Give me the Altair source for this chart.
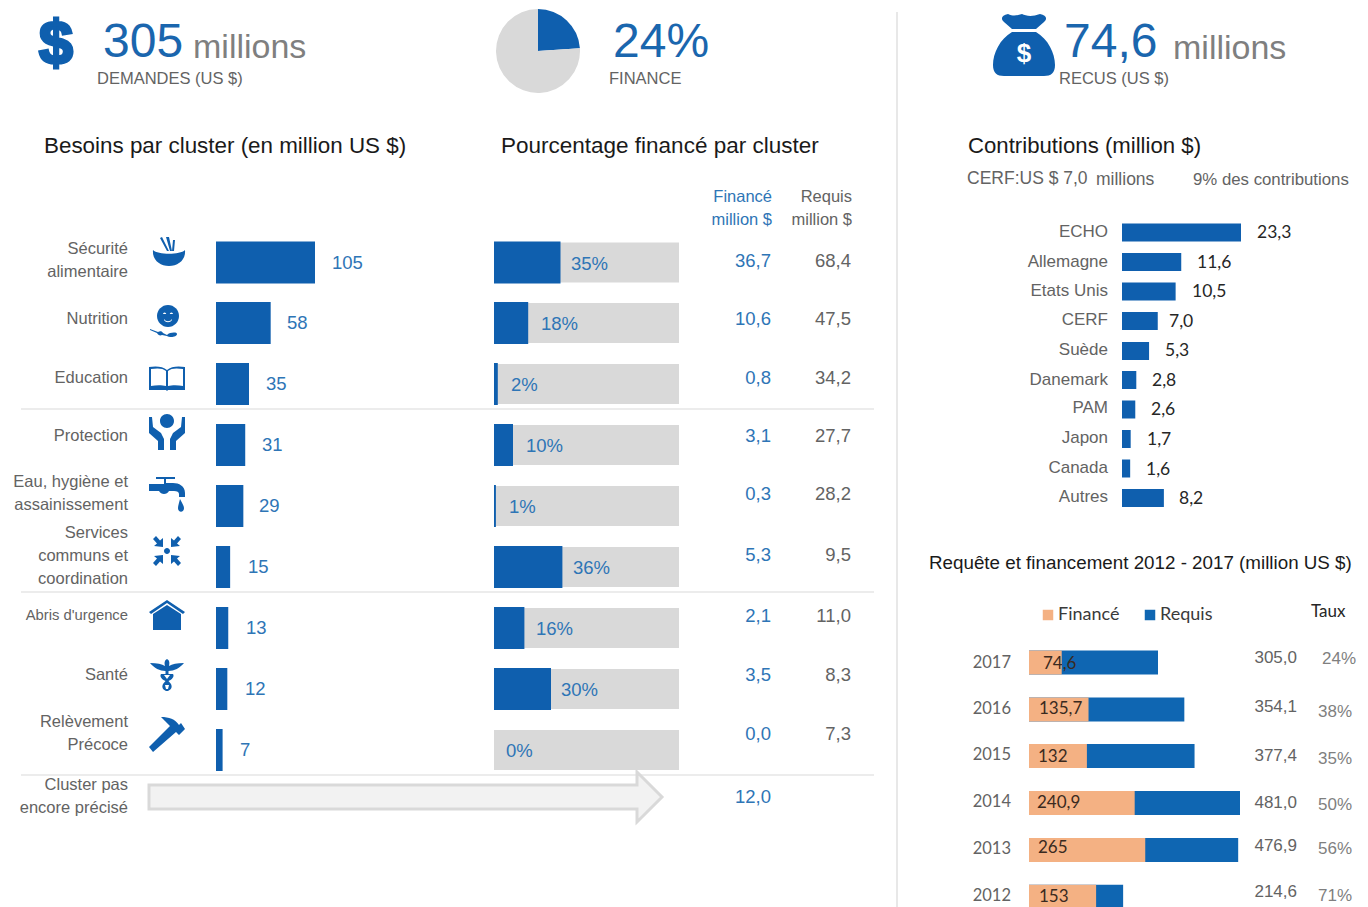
import altair as alt
import pandas as pd

W, H = 1352, 899
OX, OY = 8, 8  # page margin

BLUE = "#0F5FAE"
TXTBLUE = "#2E75B6"
BIGBLUE = "#1A66AE"
GRAY = "#636363"
MIDGRAY = "#7F7F7F"
LIGHT = "#D9D9D9"
ORANGE = "#F4B183"
ARIAL = "Liberation Sans"
CAL = "Lato"

# --- data -----------------------------------------------------------------
clusters = ["Sécurité\nalimentaire", "Nutrition", "Education", "Protection",
            "Eau, hygiène et\nassainissement", "Services\ncommuns et\ncoordination",
            "Abris d'urgence", "Santé", "Relèvement\nPrécoce", "Cluster pas\nencore précisé"]
besoins = [105, 58, 35, 31, 29, 15, 13, 12, 7]
pct = [35, 18, 2, 10, 1, 36, 16, 30, 0]
finance_txt = ["36,7", "10,6", "0,8", "3,1", "0,3", "5,3", "2,1", "3,5", "0,0", "12,0"]
requis_txt = ["68,4", "47,5", "34,2", "27,7", "28,2", "9,5", "11,0", "8,3", "7,3"]

donors = ["ECHO", "Allemagne", "Etats Unis", "CERF", "Suède", "Danemark", "PAM", "Japon", "Canada", "Autres"]
contrib = [23.3, 11.6, 10.5, 7.0, 5.3, 2.8, 2.6, 1.7, 1.6, 8.2]
contrib_txt = ["23,3", "11,6", "10,5", "7,0", "5,3", "2,8", "2,6", "1,7", "1,6", "8,2"]

years = ["2017", "2016", "2015", "2014", "2013", "2012"]
fin_y = [74.6, 135.7, 132, 240.9, 265, 153]
fin_y_txt = ["74,6", "135,7", "132", "240,9", "265", "153"]
req_y = [294, 354.1, 377.4, 481.0, 476.9, 214.6]
req_y_txt = ["305,0", "354,1", "377,4", "481,0", "476,9", "214,6"]
taux = ["24%", "38%", "35%", "50%", "56%", "71%"]

# --- scales: page pixel positions expressed in plot coordinates ------------
def xs(*p): return [v - OX for v in p]
def ys(*p): return [v - OY for v in p]

def yscale(rng):
    return alt.Y("i:Q", axis=None, stack=None,
                 scale=alt.Scale(domain=list(range(len(rng))), range=ys(*rng), nice=False, zero=False, padding=0))

def xscale_row(rng):
    return alt.X("i:Q", axis=None, stack=None,
                 scale=alt.Scale(domain=list(range(len(rng))), range=xs(*rng), nice=False, zero=False, padding=0))

BAR_ROWS = [262.5, 323, 384, 445, 506, 567, 628, 689, 750]
VAL_ROWS = [261, 319, 378, 436, 494, 555, 616, 675, 734, 797]
LBL_ROWS = [249, 319, 378, 436, 482, 533, 616, 675, 722, 785]
layers = []

def frame(**cols):
    df = pd.DataFrame(cols)
    df["i"] = range(len(df))
    return df

def bars(df, field, x0, x1, dmax, rows, size, color, **kw):
    return alt.Chart(df).mark_bar(size=size, color=color, orient="horizontal", **kw).encode(
        x=alt.X(f"{field}:Q", axis=None, stack=None,
                scale=alt.Scale(domain=[0, dmax], range=xs(x0, x1), nice=False, zero=True, padding=0)),
        y=yscale(rows))

def texts(df, field, rows, x, size, color, font=ARIAL, align="right", **kw):
    enc = dict(y=yscale(rows), text=f"{field}:N")
    if isinstance(x, (int, float)):
        enc["x"] = alt.value(x - OX)
    else:
        enc["x"] = xscale_row(x)
    return alt.Chart(df).mark_text(fontSize=size, color=color, font=font, align=align, baseline="middle",
                                   lineBreak="\n", **kw).encode(**enc)

def label(txt, x, y, size, color, font=ARIAL, align="left", **kw):
    return alt.Chart(pd.DataFrame({"t": [txt]})).mark_text(
        fontSize=size, color=color, font=font, align=align, baseline="middle", **kw
    ).encode(x=alt.value(x - OX), y=alt.value(y - OY), text="t:N")

def glyph(path, x, y, fill=BLUE, stroke=None, sw=0):
    kw = dict(shape=path, size=4, filled=True, fill=fill, opacity=1, fillOpacity=1)
    if stroke:
        kw.update(stroke=stroke, strokeWidth=sw)
    else:
        kw.update(strokeWidth=0)
    return alt.Chart(pd.DataFrame({"k": [0]})).mark_point(**kw).encode(x=alt.value(x - OX), y=alt.value(y - OY))

def hline(x0, x1, y, color=LIGHT, w=1):
    return alt.Chart(pd.DataFrame({"k": [0]})).mark_rule(color=color, strokeWidth=w).encode(
        x=alt.value(x0 - OX), x2=alt.value(x1 - OX), y=alt.value(y - OY))

def vline(x, y0, y1, color="#E8E8E8", w=2):
    return alt.Chart(pd.DataFrame({"k": [0]})).mark_rule(color=color, strokeWidth=w).encode(
        x=alt.value(x - OX), y=alt.value(y0 - OY), y2=alt.value(y1 - OY))

# --- header -------------------------------------------------------------
layers += [
    label("$", 56, 45, 61, BLUE, align="center", fontWeight="bold", stroke=BLUE, strokeWidth=3),
    label("305", 103, 43, 48, BIGBLUE),
    label("millions", 193, 48, 34, MIDGRAY),
    label("DEMANDES (US $)", 97, 79, 16.5, GRAY),
    label("24%", 613, 43, 48, BIGBLUE),
    label("FINANCE", 609, 79, 16.5, GRAY),
    label("74,6", 1064, 43, 48, BIGBLUE),
    label("millions", 1173, 49, 34, MIDGRAY),
    label("RECUS (US $)", 1059, 79, 16.5, GRAY),
    label("Besoins par cluster (en million US $)", 44, 146, 22.4, "#1A1A1A"),
    label("Pourcentage financé par cluster", 501, 146, 22.5, "#1A1A1A"),
    label("Contributions (million $)", 968, 146, 22.2, "#1A1A1A"),
    label("CERF:US $ 7,0", 967, 179, 17.5, GRAY),
    label("millions", 1096, 180, 17.5, GRAY),
    label("9% des contributions", 1193, 180, 16.8, GRAY),
    label("Requête et financement 2012 - 2017 (million US $)", 929, 563, 18.8, "#1A1A1A"),
    label("Financé", 772, 197, 16.5, TXTBLUE, align="right"),
    label("million $", 772, 220, 16.5, TXTBLUE, align="right"),
    label("Requis", 852, 197, 16.5, GRAY, align="right"),
    label("million $", 852, 220, 16.5, GRAY, align="right"),
]

# pie
pie = pd.DataFrame({"k": ["Financé", "Reste"], "v": [24, 76], "o": [0, 1]})
layers.append(alt.Chart(pie).mark_arc(radius=42).encode(
    theta=alt.Theta("v:Q", stack=True, scale=alt.Scale(domain=[0, 100], range=[0, 6.2832])),
    color=alt.Color("k:N", legend=None, scale=alt.Scale(domain=["Financé", "Reste"], range=[BLUE, LIGHT])),
    order=alt.Order("o:Q"),
    x=alt.value(538 - OX), y=alt.value(51 - OY)))

# money bag
layers.append(glyph("M-16,-31 C-10,-28 -6,-30 -2,-31 C2,-29 8,-28 16,-31 C22,-30 24,-26 20,-23 L12,-16 L-12,-16 L-20,-23 C-24,-26 -22,-30 -16,-31Z"
                    "M-12,-13 L12,-13 C24,-6 31,8 31,20 C31,28 27,31 20,31 L-20,31 C-27,31 -31,28 -31,20 C-31,8 -24,-6 -12,-13Z",
                    1024, 45))
layers.append(label("$", 1024, 54, 26, "white", align="center", fontWeight="bold"))

# separators
layers += [hline(21, 874, 409), hline(21, 874, 592), hline(21, 874, 775), vline(897, 12, 907)]

# --- cluster table --------------------------------------------------------
lbl = frame(t=clusters)
layers.append(texts(lbl[lbl.i != 6], "t", LBL_ROWS, 128, 16.5, GRAY, lineHeight=23))
layers.append(texts(lbl[lbl.i == 6], "t", LBL_ROWS, 128, 14.8, GRAY))

bd = frame(v=besoins, t=[str(v) for v in besoins])
layers.append(bars(bd, "v", 216, 315, 105, BAR_ROWS, 42, BLUE))
for_lbl = [e + 16 for e in [316, 271, 250, 246, 243, 232, 230, 229, 224]]
layers.append(texts(bd, "t", BAR_ROWS, for_lbl, 18.5, TXTBLUE, align="left"))

pdf = frame(v=pct, full=[100] * 9, t=[f"{v}%" for v in pct])
layers.append(bars(pdf, "full", 494, 679, 100, BAR_ROWS, 40, LIGHT))
layers.append(bars(pdf[pdf.v > 0], "v", 494, 684, 100, BAR_ROWS, 42, BLUE))
layers.append(texts(pdf, "t", [r + 1 for r in BAR_ROWS],
                    [571, 541, 511, 526, 509, 573, 536, 561, 506], 18.5, TXTBLUE, align="left"))

layers.append(texts(frame(t=finance_txt), "t", VAL_ROWS, 771, 18.5, TXTBLUE))
layers.append(texts(frame(t=requis_txt), "t", VAL_ROWS[:9], 851, 18.5, GRAY))

# arrow
layers.append(glyph("M-256,-12 L232,-12 L232,-25 L257,0 L232,25 L232,12 L-256,12Z",
                    405, 797, fill="#F2F2F2", stroke=LIGHT, sw=3))

# icons ------------------------------------------------------------------
bowl = ("M-16,-3 C-11,2 11,2 16,-3 C17,7 9,13 0,13 C-9,13 -17,7 -16,-3Z"
        "M-9,-15 L-2,-2 L0,-2 L-7,-16Z M-3,-16 L1,-2 L3,-2 L0,-16Z M4,-13 L3,-2 L5,-2 L6,-13Z")
layers.append(glyph(bowl, 169, 253))
# nutrition
layers.append(glyph("M-11,0 A11,11 0 1 1 11,0 A11,11 0 1 1 -11,0Z", 168, 316))
layers.append(glyph("M-5,-2 A1.6,1.6 0 1 1 -1.8,-2Z M1.8,-2 A1.6,1.6 0 1 1 5,-2Z M-4,3 C-2,6 2,6 4,3 L4,4 C2,7 -2,7 -4,4Z", 168, 316, fill="white"))
layers.append(glyph("M-16,-3 L-8,0 C-6,-1 -4,-1 -3,1 L1,3 C4,0 11,0 11,2 C11,5 4,6 1,4 L-4,3 C-6,4 -8,3 -9,1 L-16,-2Z", 166, 332))
# book (education)
layers.append(glyph("M-18,-11 C-12,-12 -4,-12 0,-8 C4,-12 12,-12 18,-11 L18,12 L1,12 L0,13 L-1,12 L-18,12Z", 167, 378))
layers.append(glyph("M-16,-9 C-10,-10 -4,-10 -1,-7 L-1,8 C-5,7 -11,7 -16,8Z M1,-7 C4,-10 10,-10 16,-9 L16,8 C11,7 5,7 1,8Z", 167, 378, fill="white"))
# protection: hands
layers.append(glyph("M-7,-12 A7,7 0 1 1 7,-12 A7,7 0 1 1 -7,-12Z"
                    "M-18,-16 L-15,-16 L-14,-6 L-6,0 L-3,6 L-3,17 L-9,17 L-9,8 L-18,0Z"
                    "M18,-16 L15,-16 L14,-6 L6,0 L3,6 L3,17 L9,17 L9,8 L18,0Z", 167, 433))
# tap
layers.append(glyph("M-11,-16 L8,-16 L8,-14 L-1,-14 L-1,-10 L6,-10 C12,-10 18,-7 18,0 L18,4 L12,4 L12,1 C12,-1 10,-2 7,-2 L2,-2 C0,2 -6,2 -8,-2 L-18,-2 L-18,-9 L-3,-9 L-3,-14 L-11,-14Z"
                    "M13,6 C15,10 17,13 17,15 C17,20 11,20 11,15 C11,13 12,10 13,6Z", 167, 493))
# services: arrows to centre
layers.append(glyph("M-3,0 A3,3 0 1 1 3,0 A3,3 0 1 1 -3,0Z"
                    "M-4,-4 L-13,-5 L-10,-7.5 L-14,-12 L-11,-15 L-7,-10.5 L-4,-13Z"
                    "M4,-4 L13,-5 L10,-7.5 L14,-12 L11,-15 L7,-10.5 L4,-13Z"
                    "M-4,4 L-13,5 L-10,7.5 L-14,12 L-11,15 L-7,10.5 L-4,13Z"
                    "M4,4 L13,5 L10,7.5 L14,12 L11,15 L7,10.5 L4,13Z", 167, 551))
# shelter
layers.append(glyph("M0,-17 L18,-5 L16,-3 L0,-14 L-16,-3 L-18,-5Z M-14,-3 L0,-12 L14,-3 L14,13 L-14,13Z", 167, 617))
# caduceus
layers.append(glyph("M-17,-12 C-10,-12 -5,-11 -2,-9 C-3,-13 -2,-15 0,-16 C2,-15 3,-13 2,-9 C5,-11 10,-12 17,-12 C13,-7 7,-4 1.5,-4 L1.5,-1 L6,-1 C8,2 4,5 1.5,6 L4,9 C6,13 3,15 1,16 L-1,16 C-3,15 -6,13 -4,9 L-1.5,6 C-4,5 -8,2 -6,-1 L-1.5,-1 L-1.5,-4 C-7,-4 -13,-7 -17,-12Z", 167, 675))
layers.append(glyph("M-3,0 L3,0 L0,4Z M-2,10 L2,10 L1,14 L-1,14Z", 167, 675, fill="white"))
# hammer
layers.append(glyph("M-18,13 L3,-8 L-6,-17 C2,-17 8,-15 12,-9 L14,-11 L18,-5 L12,1 L9,-2 L-14,18Z", 167, 734))

# --- contributions --------------------------------------------------------
CB_ROWS = [232.5, 262, 291.5, 321, 351, 380, 409.5, 439, 468.5, 498]
cd = frame(d=donors, v=contrib, t=contrib_txt)
layers.append(texts(cd, "d", [232, 262, 291, 320, 350, 380, 408, 438, 468, 497], 1108, 17, GRAY))
layers.append(alt.Chart(cd).mark_bar(size=18, color=BLUE, orient="horizontal").encode(
    x=alt.X("v:Q", axis=None, stack=None, scale=alt.Scale(domain=[0, 23.3], range=xs(1122, 1241), nice=False, padding=0)),
    y=yscale(CB_ROWS)))
layers.append(texts(cd, "t", [233, 263, 292, 322, 351, 381, 410, 440, 470, 499],
                    [1257, 1197, 1192, 1169, 1165, 1152, 1151, 1147, 1146, 1179], 17.5, "#262626", font=CAL, align="left"))

# --- history --------------------------------------------------------------
YB_ROWS = [662.5, 709.5, 756, 803, 850, 896.7]
yd = frame(y=years, f=fin_y, r=req_y, ft=fin_y_txt, rt=req_y_txt, tx=taux)
SC = dict(domain=[0, 481], range=xs(1029, 1240), nice=False, padding=0)
layers.append(alt.Chart(yd).mark_bar(size=24, color="#0F66B2", orient="horizontal").encode(
    x=alt.X("r:Q", axis=None, stack=None, scale=alt.Scale(**SC)), y=yscale(YB_ROWS)))
layers.append(alt.Chart(yd).mark_bar(size=24, color=ORANGE, orient="horizontal").encode(
    x=alt.X("f:Q", axis=None, stack=None, scale=alt.Scale(**SC)), y=yscale(YB_ROWS)))
layers.append(texts(yd, "y", [663, 709, 755, 802, 849, 896], 1011, 16.5, GRAY, font=CAL))
layers.append(texts(yd, "ft", [664, 709, 757, 803, 848, 897], [1043, 1039, 1038, 1037, 1038, 1039], 17, "#3A2A20", font=CAL, align="left"))
layers.append(texts(yd, "rt", [658, 707, 756, 803, 846, 892], 1297, 17, GRAY))
layers.append(texts(yd, "tx", [659, 712, 759, 805, 849, 896], [1356, 1352, 1352, 1352, 1352, 1352], 17, MIDGRAY))

# legend
legend = pd.DataFrame({"k": ["Financé", "Requis"], "c": [ORANGE, "#0F66B2"], "i": [0, 1]})
layers.append(alt.Chart(legend).mark_square(size=110, opacity=1).encode(
    x=xscale_row([1048, 1150]), y=alt.value(615 - OY),
    color=alt.Color("c:N", scale=None)))
layers.append(alt.Chart(legend).mark_text(fontSize=18, font=CAL, color="#3A3A3A", align="left", baseline="middle").encode(
    x=xscale_row([1058, 1160]), y=alt.value(615 - OY), text="k:N"))
layers.append(label("Taux", 1311, 612, 17, "#262626", font=CAL))

chart = alt.layer(*layers).resolve_scale(x="independent", y="independent", color="independent", theta="independent").properties(
    width=W, height=H, padding=0, autosize="none", background="white"
).configure_view(stroke=None)

chart.save("out.html", embed_options={"renderer": "svg", "actions": False})
